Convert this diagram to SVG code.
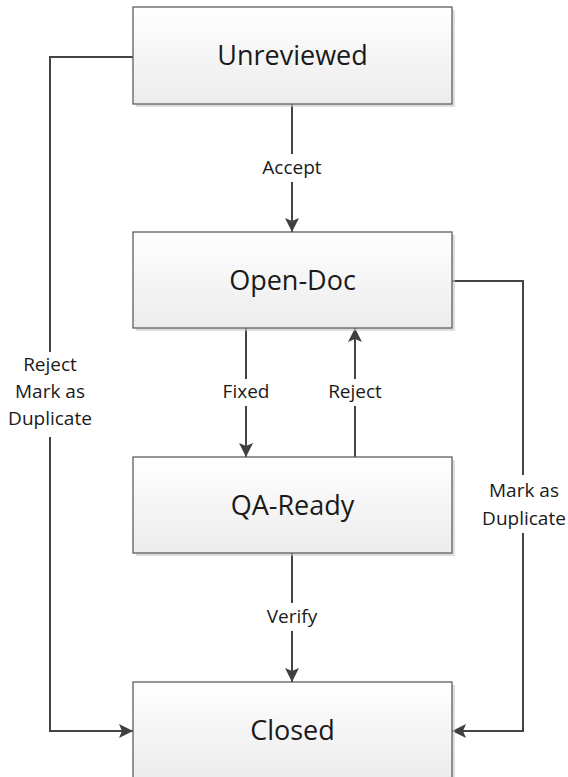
<svg xmlns="http://www.w3.org/2000/svg" width="568" height="777" viewBox="0 0 568 777">
<defs>
<linearGradient id="g" x1="0" y1="0" x2="0" y2="1">
<stop offset="0" stop-color="#ffffff"/>
<stop offset="1" stop-color="#ececec"/>
</linearGradient>
<marker id="ah" viewBox="0 0 14 14" refX="14" refY="7" markerWidth="14" markerHeight="14" markerUnits="userSpaceOnUse" orient="auto">
<path d="M0,0 L14,7 L0,14 L3,7 z" fill="#404040"/>
</marker>
<style>
.shadow{fill:#c8c8c8;opacity:0.6}
.box{fill:url(#g);stroke:#5e5e5e;stroke-width:1.3}
.nt{font-family:"Open Sans","Liberation Sans",sans-serif;font-size:27px;fill:#1a1a1a;text-anchor:middle}
.lt{font-family:"Open Sans","Liberation Sans",sans-serif;font-size:19px;fill:#1a1a1a;text-anchor:middle}
.c{fill:none;stroke:#444444;stroke-width:2}
.a{marker-end:url(#ah)}
</style>
</defs>
<rect width="568" height="777" fill="#ffffff"/>
<g id="connectors">
<path class="c" d="M292,104 V154"/>
<path class="c a" d="M292,182 V232"/>
<text class="lt" x="292" y="174">Accept</text>
<path class="c" d="M246,328 V379"/>
<path class="c a" d="M246,406 V457"/>
<text class="lt" x="246" y="398">Fixed</text>
<path class="c" d="M355,457 V406"/>
<path class="c a" d="M355,379 V328"/>
<text class="lt" x="355" y="398">Reject</text>
<path class="c" d="M292,553 V603"/>
<path class="c a" d="M292,631 V682"/>
<text class="lt" x="292" y="623">Verify</text>
<path class="c" d="M133,57 H50 V352"/>
<path class="c a" d="M50,437 V731 H133"/>
<text class="lt" x="50" y="371">Reject</text>
<text class="lt" x="50" y="398">Mark as</text>
<text class="lt" x="50" y="425">Duplicate</text>
<path class="c" d="M452,281 H523 V475"/>
<path class="c a" d="M523,533 V731 H452"/>
<text class="lt" x="524" y="497">Mark as</text>
<text class="lt" x="524" y="525">Duplicate</text>
</g>
<g id="unreviewed">
<rect class="shadow" x="136" y="10" width="319" height="97"/>
<rect class="box" x="133" y="7" width="319" height="97"/>
<text class="nt" x="292.5" y="65">Unreviewed</text>
</g>
<g id="open-doc">
<rect class="shadow" x="136" y="235" width="319" height="96"/>
<rect class="box" x="133" y="232" width="319" height="96"/>
<text class="nt" x="292.5" y="290">Open-Doc</text>
</g>
<g id="qa-ready">
<rect class="shadow" x="136" y="460" width="319" height="96"/>
<rect class="box" x="133" y="457" width="319" height="96"/>
<text class="nt" x="292.5" y="515">QA-Ready</text>
</g>
<g id="closed">
<rect class="shadow" x="136" y="685" width="319" height="96"/>
<rect class="box" x="133" y="682" width="319" height="96"/>
<text class="nt" x="292.5" y="740">Closed</text>
</g>
</svg>
